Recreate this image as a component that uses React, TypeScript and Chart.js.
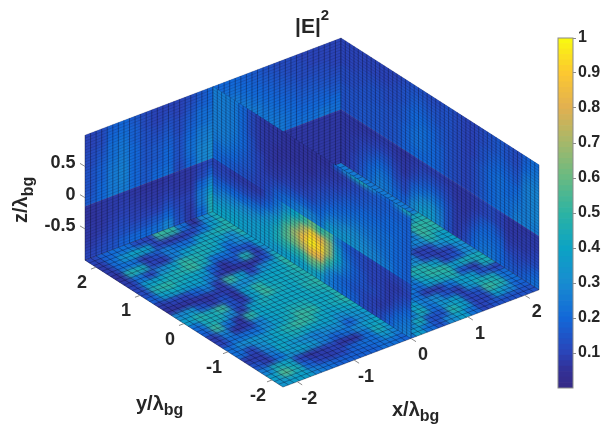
import React, { useEffect, useRef } from "react";
import { Chart, registerables } from "chart.js";

Chart.register(...registerables);

// All field values are |E|^2 in hundredths.
// Floor (z = -1): rows run from y = +2.25 to y = -2.25, each row from x = -2.25 to x = +2.25.
const floorRows = [
  [10,18,22,22,12,10,52,50,22,6,30,44,25,25,25,25,25,25,25,25,25,25,25],
  [8,22,34,41,38,10,8,8,10,22,38,47,25,25,25,25,25,25,25,25,25,25,25],
  [8,22,22,8,14,26,22,22,38,44,47,47,25,25,25,25,25,25,25,25,25,25,25],
  [6,47,44,10,8,26,38,44,44,38,30,47,25,25,25,25,25,25,25,25,25,25,25],
  [8,22,10,30,38,50,47,44,38,22,30,38,25,25,25,25,25,25,25,25,25,25,25],
  [10,38,40,44,47,52,44,22,22,14,14,38,25,25,25,25,25,25,25,25,25,25,25],
  [12,47,50,44,41,38,18,6,14,47,8,30,25,25,25,25,25,25,25,25,25,25,25],
  [18,38,41,38,38,26,8,6,6,6,14,44,25,25,25,25,25,25,25,25,25,25,25],
  [8,10,10,18,26,8,52,38,10,30,38,50,25,25,25,25,25,25,25,25,25,25,25],
  [6,6,6,6,8,8,30,30,38,40,41,50,25,25,25,25,25,25,25,25,25,25,44],
  [30,34,14,8,14,6,38,50,41,41,44,47,25,25,25,25,25,25,25,25,25,50,50],
  [38,47,44,52,14,8,38,52,44,41,44,47,25,25,25,25,25,25,25,25,25,52,47],
  [22,44,44,30,8,38,44,41,41,41,47,50,25,25,25,25,25,25,25,25,30,47,38],
  [18,52,22,6,50,40,41,41,41,41,44,47,25,25,25,25,25,25,25,8,10,30,38],
  [8,26,6,8,26,38,41,45,45,41,41,47,25,25,25,25,25,25,30,10,8,10,30],
  [10,22,22,22,30,38,44,52,50,41,44,50,25,25,25,25,25,47,47,38,10,14,30],
  [22,30,34,34,41,47,52,50,41,38,41,44,25,25,25,25,25,44,50,50,38,44,44],
  [22,10,30,38,41,44,41,38,38,30,34,38,25,25,25,25,22,38,44,47,14,8,44],
  [8,8,26,41,34,30,26,30,30,18,30,34,25,25,25,22,8,8,22,38,38,14,10],
  [14,8,22,34,38,34,26,18,22,30,38,41,25,25,38,26,30,14,8,34,44,44,22],
  [26,44,41,10,6,8,10,6,6,22,44,34,25,25,44,22,34,38,10,14,52,47,22],
  [38,56,44,18,10,8,10,18,22,22,34,26,25,44,14,14,47,38,10,10,38,30,18],
  [34,38,38,26,22,18,18,18,18,22,22,18,38,22,14,30,38,22,10,14,14,14,14],
];

// Wall at y = +2.25: one list per column from x = -2.25 to x = +2.25, each from z = +1 down to z = -1.
const backLeftColumns = [
  [10,10,12,12,14,14,14,16,6,6,7,7,8,10],
  [12,12,14,16,18,18,20,20,7,7,7,8,10,12],
  [18,20,22,22,24,25,25,25,8,8,9,10,12,14],
  [20,22,24,25,26,27,27,26,8,9,10,12,14,18],
  [16,18,18,20,20,20,20,20,7,8,9,10,14,20],
  [12,12,14,14,15,15,16,16,6,7,8,10,14,20],
  [10,10,12,14,16,16,18,20,6,7,8,10,16,22],
  [10,12,14,16,18,20,20,22,7,8,10,14,20,28],
  [10,10,12,12,14,14,14,12,7,7,8,10,12,14],
  [12,14,16,18,20,22,22,20,7,7,8,10,8,8],
  [16,18,22,22,25,26,28,28,10,12,20,25,25,20],
  [20,20,22,24,26,28,30,30,12,18,28,38,45,45],
  [20,22,25,28,28,28,28,28,10,10,10,10,10,10],
  [20,22,25,28,30,30,30,30,10,10,10,10,10,10],
  [18,20,22,25,28,28,28,28,9,9,9,9,9,9],
  [16,18,20,22,25,25,25,25,9,9,9,9,9,9],
  [14,16,18,20,22,24,25,25,9,9,9,9,9,9],
  [12,14,16,18,20,22,24,25,8,8,8,8,8,8],
  [12,12,14,16,18,20,22,22,7,7,7,7,7,7],
  [10,12,12,14,16,18,20,22,7,7,7,7,7,7],
  [10,10,12,14,16,18,20,22,7,7,7,7,7,7],
  [10,10,12,13,15,18,20,24,7,7,7,7,7,7],
  [10,10,10,12,14,16,20,22,7,7,7,7,7,7],
];

// Wall at x = +2.25: one list per column from y = +2.25 to y = -2.25, each from z = +1 down to z = -1.
const backRightColumns = [
  [10,10,10,12,12,14,14,14,7,7,7,7,7,7],
  [10,10,10,12,12,14,14,14,7,7,8,8,10,10],
  [10,10,12,12,14,14,15,15,7,8,10,12,14,16],
  [10,10,12,14,14,15,15,15,7,9,12,16,20,22],
  [10,10,12,14,14,15,15,15,8,10,15,20,24,26],
  [10,10,12,12,14,14,14,14,8,10,14,18,22,24],
  [10,12,12,14,14,15,15,15,7,8,10,12,16,20],
  [12,14,14,16,16,18,18,18,6,7,7,10,12,18],
  [14,16,18,20,20,22,22,20,8,9,12,18,24,30],
  [14,16,18,20,22,22,22,20,9,12,16,22,30,36],
  [12,14,16,18,20,20,20,20,9,13,18,25,32,36],
  [12,14,14,16,16,18,18,18,9,12,16,22,26,28],
  [14,14,14,14,14,14,14,14,8,10,12,14,14,14],
  [12,12,12,12,12,12,12,12,7,7,8,8,8,8],
  [10,10,10,10,10,10,10,10,7,7,7,8,10,12],
  [10,10,10,10,12,12,12,12,8,8,10,14,18,20],
  [12,12,14,14,16,16,16,16,10,10,16,20,22,24],
  [14,14,16,18,20,20,20,20,12,12,18,20,22,24],
  [16,16,18,20,22,22,22,22,10,10,14,18,20,20],
  [14,14,16,18,20,20,22,22,7,7,8,10,14,16],
  [12,12,14,16,20,22,24,26,7,7,8,10,12,15],
  [18,20,24,26,26,26,26,26,7,8,8,10,14,18],
  [22,24,26,28,28,28,28,26,8,8,10,12,18,22],
];

// Slice at x = 0: one list per column from y = +2.25 to y = -2.25, each from z = +1 down to z = -1.
const sliceColumns = [
  [26,26,26,26,26,25,22,20,10,12,18,25,33,40],
  [26,26,26,26,26,25,22,18,10,12,20,28,35,40],
  [25,25,25,25,24,22,20,16,8,12,20,28,36,40],
  [20,20,20,20,20,18,16,14,8,12,20,30,36,38],
  [12,12,12,14,14,14,14,12,8,12,22,30,36,36],
  [8,8,8,8,10,10,10,10,8,14,24,33,37,36],
  [7,7,7,7,7,8,10,12,14,20,30,36,38,36],
  [7,7,6,6,7,8,12,18,22,28,38,44,44,36],
  [6,6,6,7,8,10,15,22,32,44,54,56,48,38],
  [6,6,6,7,8,10,16,25,40,55,68,62,48,38],
  [6,6,6,7,8,11,18,28,50,72,85,72,50,38],
  [6,6,6,8,10,12,18,28,60,92,98,85,60,42],
  [6,7,8,10,13,16,20,25,50,82,92,80,55,36],
  [6,7,9,12,15,20,26,35,55,68,68,50,30,26],
  [7,8,10,14,18,22,28,34,28,36,40,32,22,22],
  [8,10,13,17,20,24,30,34,18,22,25,22,18,20],
  [10,12,15,18,22,26,30,32,14,16,18,17,15,18],
  [12,14,16,20,22,25,28,30,12,12,14,14,12,12],
  [14,16,18,20,22,24,26,28,10,10,10,12,10,10],
  [16,17,18,20,22,22,24,26,10,10,10,10,8,12],
  [17,18,20,20,22,22,22,24,10,8,8,8,12,18],
  [18,18,20,20,20,20,20,20,10,8,10,14,20,24],
  [18,18,18,18,18,18,18,18,12,10,14,20,24,26],
];
// The thin bright streak along the top edge of the slice.
const sliceTopEdge = [26,26,25,20,12,8,7,7,6,6,6,6,6,6,20,30,42,45,30,22,20,30,45];

const xTicks = [-2, -1, 0, 1, 2];
const yTicks = [-2, -1, 0, 1, 2];
const zTicks = [-0.5, 0, 0.5];
const colorbarTicks = [0.1, 0.2, 0.3, 0.4, 0.5, 0.6, 0.7, 0.8, 0.9, 1];
// Colour ramp of the colour bar: [value, r, g, b]
const colorStops = [
  [0, 53, 42, 135],
  [0.05, 50, 48, 150],
  [0.1, 42, 68, 184],
  [0.2, 18, 104, 216],
  [0.3, 24, 140, 208],
  [0.4, 12, 163, 196],
  [0.5, 45, 179, 162],
  [0.6, 104, 186, 130],
  [0.7, 165, 184, 106],
  [0.8, 226, 176, 80],
  [0.9, 252, 200, 48],
  [1, 249, 251, 14],
];

const FONT = '"Liberation Sans", Arial, sans-serif';
const INK = "#262626";
const LIM = 2.25;
const MESH_XY = 46;
const MESH_Z = 42;
const BOUNDARY = 8; // data row where the material interface lies

function colorOf(v: number) {
  for (let i = 1; i < colorStops.length; i++) {
    if (v <= colorStops[i][0]) {
      const a = colorStops[i - 1];
      const b = colorStops[i];
      const t = (v - a[0]) / (b[0] - a[0]);
      const c = [1, 2, 3].map((k) => Math.round(a[k] + (b[k] - a[k]) * t));
      return `rgb(${c[0]},${c[1]},${c[2]})`;
    }
  }
  return "rgb(249,251,14)";
}

function project(x: number, y: number, z: number) {
  return { x: 312 + 56.9 * x - 44 * y, y: 275 - 21.6 * x - 28.2 * y - 62.5 * (z + 1) };
}

type At = (u: number, v: number) => { x: number; y: number };
const atFloor: At = (u, v) => project(-LIM + 2 * LIM * u, LIM - 2 * LIM * v, -1);
const atBackLeft: At = (u, v) => project(-LIM + 2 * LIM * u, LIM, 1 - 2 * v);
const atBackRight: At = (u, v) => project(LIM, LIM - 2 * LIM * u, 1 - 2 * v);
const atSlice: At = (u, v) => project(0, LIM - 2 * LIM * u, 1 - 2 * v);

function cells(at: At, rows: number[][], v0: number, v1: number, rowSpan?: [number, number]) {
  const start = rowSpan ? rowSpan[0] : 0;
  const end = rowSpan ? rowSpan[1] : rows.length;
  const ncol = rows[0].length;
  const dv = (v1 - v0) / (end - start);
  const out: any[] = [];
  for (let r = start; r < end; r++) {
    for (let c = 0; c < ncol; c++) {
      const a = v0 + (r - start) * dv;
      const u0 = c / ncol;
      const u1 = (c + 1) / ncol;
      const centre = at((u0 + u1) / 2, a + dv / 2);
      out.push({
        x: centre.x,
        y: centre.y,
        v: rows[r][c] / 100,
        corners: [at(u0, a), at(u1, a), at(u1, a + dv), at(u0, a + dv)],
      });
    }
  }
  return out;
}

const transpose = (cols: number[][]) => cols[0].map((_, r) => cols.map((col) => col[r]));

function wallDatasets(name: string, at: At, columns: number[][], topEdge?: number[]) {
  const rows = transpose(columns);
  const split = BOUNDARY / rows.length;
  const upper = cells(at, rows, 0, split, [0, BOUNDARY]);
  const edge = topEdge ? cells(at, [topEdge], 0, 1 / MESH_Z) : [];
  return [
    { label: name + " upper", data: [...upper, ...edge], at, outline: [0, split], mesh: null },
    {
      label: name + " lower",
      data: cells(at, rows, split, 1, [BOUNDARY, rows.length]),
      at,
      outline: [split, 1],
      mesh: [MESH_XY, MESH_Z],
    },
  ];
}

const sceneDatasets: any[] = [
  ...wallDatasets("y wall", atBackLeft, backLeftColumns),
  ...wallDatasets("x wall", atBackRight, backRightColumns),
  { label: "floor", data: cells(atFloor, floorRows, 0, 1), at: atFloor, outline: [0, 1], mesh: [MESH_XY, MESH_XY] },
  ...wallDatasets("slice x=0", atSlice, sliceColumns, sliceTopEdge),
].map((d) => ({ ...d, pointRadius: 0, showLine: false }));

function line(ctx: CanvasRenderingContext2D, x0: number, y0: number, x1: number, y1: number) {
  ctx.beginPath();
  ctx.moveTo(x0, y0);
  ctx.lineTo(x1, y1);
  ctx.stroke();
}

function drawParts(
  ctx: CanvasRenderingContext2D,
  x: number,
  y: number,
  parts: [string, number, number][],
  angle = 0
) {
  ctx.save();
  ctx.translate(x, y);
  ctx.rotate(angle);
  ctx.fillStyle = INK;
  ctx.textAlign = "left";
  ctx.textBaseline = "alphabetic";
  let cx = 0;
  for (const [text, size, dy] of parts) {
    ctx.font = `bold ${size}px ${FONT}`;
    ctx.fillText(text, cx, dy);
    cx += ctx.measureText(text).width;
  }
  ctx.restore();
}

const scenePlugin = {
  id: "scene",
  beforeDatasetsDraw(chart: any) {
    const ctx: CanvasRenderingContext2D = chart.ctx;
    const sx = chart.scales.x;
    const sy = chart.scales.y;
    const px = (p: { x: number; y: number }) => ({ x: sx.getPixelForValue(p.x), y: sy.getPixelForValue(p.y) });

    for (const ds of chart.data.datasets) {
      const off = document.createElement("canvas");
      off.width = chart.width;
      off.height = chart.height;
      const o = off.getContext("2d")!;
      o.lineWidth = 1;
      for (const cell of ds.data) {
        const pts = cell.corners.map(px);
        o.fillStyle = colorOf(cell.v);
        o.strokeStyle = o.fillStyle;
        o.beginPath();
        pts.forEach((p: any, i: number) => (i ? o.lineTo(p.x, p.y) : o.moveTo(p.x, p.y)));
        o.closePath();
        o.fill();
        o.stroke();
      }
      const [v0, v1] = ds.outline;
      const poly = [ds.at(0, v0), ds.at(1, v0), ds.at(1, v1), ds.at(0, v1)].map(px);
      ctx.save();
      ctx.beginPath();
      poly.forEach((p: any, i: number) => (i ? ctx.lineTo(p.x, p.y) : ctx.moveTo(p.x, p.y)));
      ctx.closePath();
      ctx.clip();
      ctx.drawImage(off, 0, 0);
      (ctx as any).filter = "blur(2px)";
      ctx.drawImage(off, 0, 0);
      (ctx as any).filter = "none";
      ctx.restore();

      if (ds.mesh) {
        const [nu, nv] = ds.mesh;
        ctx.save();
        ctx.strokeStyle = "rgba(10,10,40,0.55)";
        ctx.lineWidth = 0.7;
        const isFloor = ds.label === "floor";
        for (let i = 0; i <= nu; i++) {
          const a = px(ds.at(i / nu, 0));
          const b = px(ds.at(i / nu, 1));
          line(ctx, a.x, a.y, b.x, b.y);
        }
        ctx.strokeStyle = isFloor ? "rgba(10,10,40,0.5)" : "rgba(10,10,40,0.25)";
        for (let j = 0; j <= nv; j++) {
          const a = px(ds.at(0, j / nv));
          const b = px(ds.at(1, j / nv));
          line(ctx, a.x, a.y, b.x, b.y);
        }
        ctx.restore();
      }
    }

    // Axis ticks and labels
    ctx.save();
    ctx.strokeStyle = "#8a8a8a";
    ctx.lineWidth = 1;
    ctx.font = `bold 18px ${FONT}`;
    ctx.fillStyle = INK;
    ctx.textBaseline = "middle";
    ctx.textAlign = "center";
    for (const t of xTicks) {
      const a = px(project(t, -LIM, -1));
      line(ctx, a.x, a.y, a.x + 5, a.y + 3.2);
      ctx.fillText(String(t), a.x + 12, a.y + 17);
    }
    for (const t of yTicks) {
      const a = px(project(-LIM, t, -1));
      line(ctx, a.x, a.y, a.x - 5, a.y + 1.9);
      ctx.fillText(String(t), a.x - 14, a.y + 16);
    }
    ctx.textAlign = "right";
    for (const t of zTicks) {
      const a = px(project(-LIM, LIM, t));
      line(ctx, a.x, a.y, a.x - 5, a.y - 3);
      ctx.fillText(String(t), 75.5, a.y - 3);
    }
    ctx.restore();

    drawParts(ctx, 295, 33, [["|E|", 21, 0], ["2", 15, -13]]);
    drawParts(ctx, 392, 416, [["x/λ", 20, 0], ["bg", 16, 5]]);
    drawParts(ctx, 136, 410, [["y/λ", 20, 0], ["bg", 16, 5]]);
    drawParts(ctx, 27, 223, [["z/λ", 20, 0], ["bg", 16, 6]], -Math.PI / 2);
  },
};

const colorbarOutline = {
  id: "cbOutline",
  afterDatasetsDraw(chart: any) {
    const { left, top, width, height } = chart.chartArea;
    const ctx = chart.ctx;
    ctx.save();
    ctx.strokeStyle = "#8a8a8a";
    ctx.lineWidth = 1;
    ctx.strokeRect(left, top, width, height);
    ctx.restore();
  },
};

const LEVELS = 64;
const levelEdges = Array.from({ length: LEVELS + 1 }, (_, i) => i / LEVELS);

export default function App() {
  const sceneRef = useRef<HTMLCanvasElement>(null);
  const barRef = useRef<HTMLCanvasElement>(null);

  useEffect(() => {
    const scene = new Chart(sceneRef.current!, {
      type: "scatter",
      data: { datasets: sceneDatasets },
      options: {
        animation: false,
        responsive: false,
        devicePixelRatio: 1,
        layout: { padding: 0 },
        plugins: { legend: { display: false }, tooltip: { enabled: false } },
        events: [],
        scales: {
          x: { type: "linear", min: 0, max: 604, display: false },
          y: { type: "linear", min: 0, max: 434, reverse: true, display: false },
        },
      },
      plugins: [scenePlugin],
    } as any);

    const bar = new Chart(barRef.current!, {
      type: "bar",
      data: {
        labels: ["|E|^2"],
        datasets: levelEdges.slice(0, LEVELS).map((lo, i) => ({
          label: String(lo),
          data: [[lo, levelEdges[i + 1]]],
          backgroundColor: colorOf((lo + levelEdges[i + 1]) / 2),
          borderWidth: 0,
          grouped: false,
          barPercentage: 1,
          categoryPercentage: 1,
        })),
      },
      options: {
        animation: false,
        responsive: false,
        devicePixelRatio: 1,
        layout: { padding: { left: 18, top: 18, bottom: 12, right: 0 } },
        plugins: { legend: { display: false }, tooltip: { enabled: false } },
        events: [],
        scales: {
          x: { display: false },
          y: {
            position: "right",
            min: 0,
            max: 1,
            afterBuildTicks: (s: any) => {
              s.ticks = colorbarTicks.map((value) => ({ value }));
            },
            afterFit: (s: any) => {
              s.width = 31;
            },
            border: { display: false },
            grid: { drawOnChartArea: false, drawTicks: true, tickLength: 3, color: "#8a8a8a" },
            ticks: {
              color: INK,
              padding: 2,
              autoSkip: false,
              maxRotation: 0,
              font: { family: FONT, size: 16, weight: "bold" },
              callback: (v: any) => String(v),
            },
          },
        },
      },
      plugins: [colorbarOutline],
    } as any);

    return () => {
      scene.destroy();
      bar.destroy();
    };
  }, []);

  return (
    <div style={{ position: "fixed", left: 0, top: 0, width: 604, height: 434, background: "#fff" }}>
      <canvas ref={sceneRef} width={604} height={434} style={{ position: "absolute", left: 0, top: 0 }} />
      <canvas ref={barRef} width={64} height={380} style={{ position: "absolute", left: 540, top: 20 }} />
    </div>
  );
}
